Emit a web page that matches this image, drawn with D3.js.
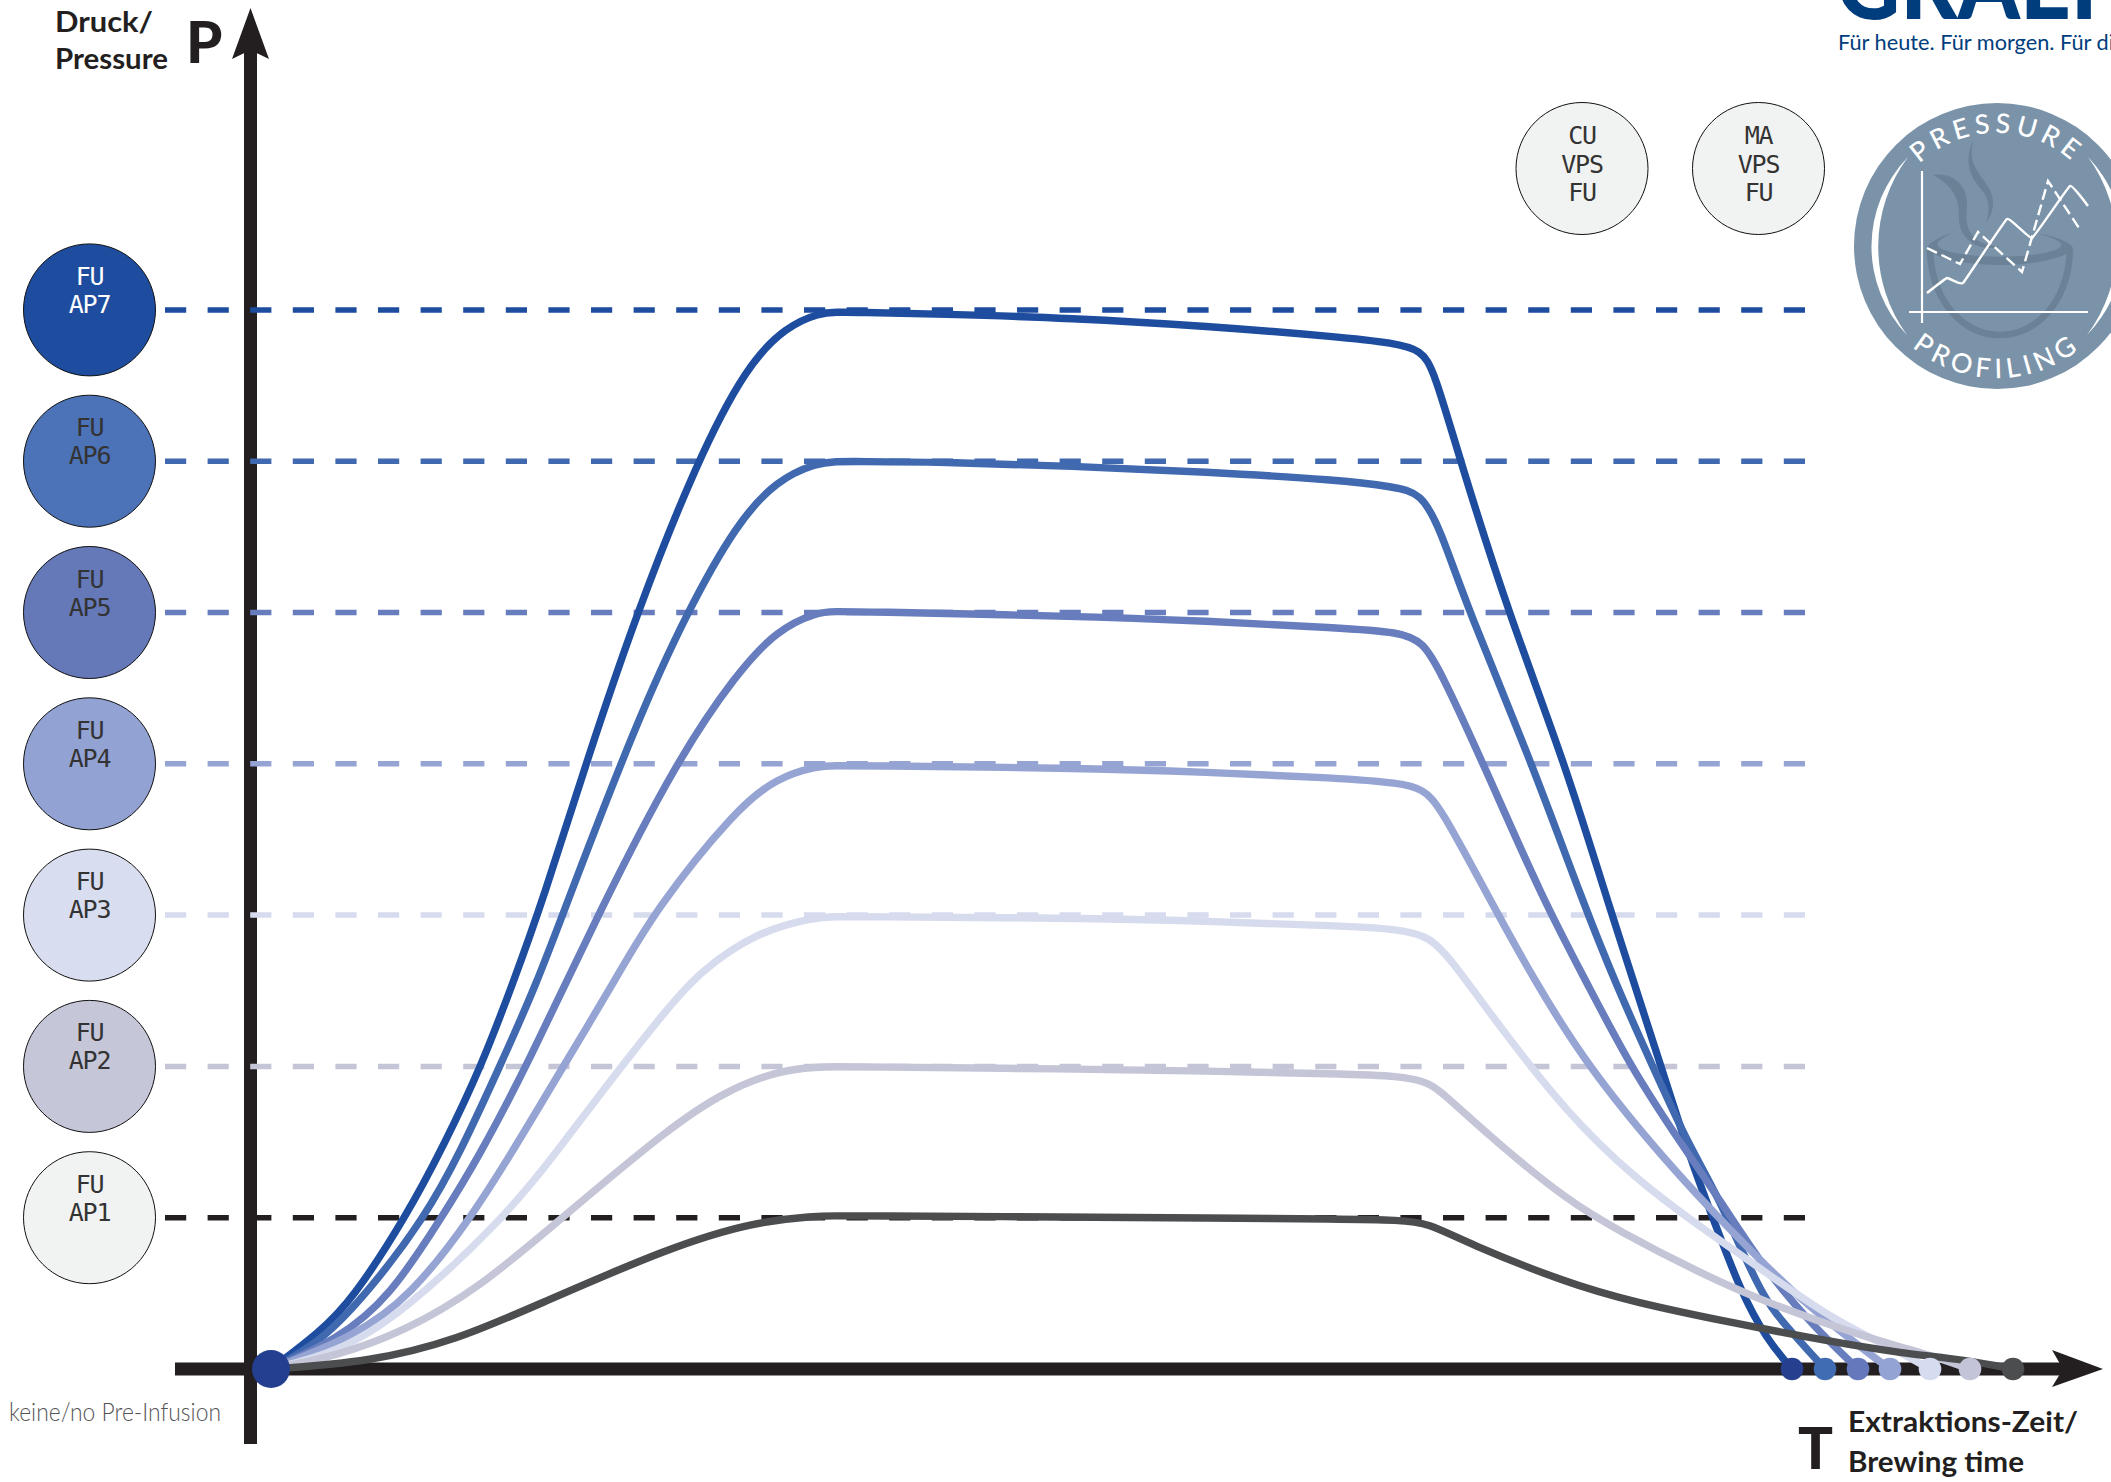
<!DOCTYPE html>
<html>
<head>
<meta charset="utf-8">
<title>Pressure Profiling</title>
<script src="https://cdn.jsdelivr.net/npm/d3@7"></script>
<style>
  html, body { margin: 0; padding: 0; background: #fff; overflow: hidden; }
  text { font-family: Lato, "Noto Sans", sans-serif; }
  .lcd { font-family: "DejaVu Sans Mono", monospace; font-size: 25px; letter-spacing: -1.2px; text-anchor: middle; }
</style>
</head>
<body>
<svg id="chart" width="2111" height="1482"></svg>
<script>
// Time in arbitrary units, pressure in levels (AP1 = 1 ... AP7 = 7)
const tAP7 = [0, 4.9, 8.1, 13.5, 17.4, 21.0, 24.2, 27.2, 31.6, 36.6, 42.6, 47.6, 51.6, 54.9, 56.5, 58.5, 66.8, 80.1, 93.5, 106.9, 112.3, 115.0, 116.3, 118.9, 123.7, 129.4, 133.6, 138.9, 142.2, 144.4, 146.9, 149.6, 152.1];
const pAP7 = [0, 0.245, 0.456, 1.005, 1.494, 1.996, 2.551, 3.100, 4.025, 5.003, 6.001, 6.636, 6.894, 6.980, 6.985, 6.985, 6.973, 6.946, 6.894, 6.821, 6.781, 6.735, 6.603, 6.008, 5.003, 4.005, 3.100, 2.022, 1.335, 0.965, 0.522, 0.192, 0];

const tAP6 = [0, 4.9, 9.9, 15.4, 18.9, 22.9, 26.6, 29.7, 36.6, 41.6, 46.6, 50.6, 54.6, 56.5, 58.5, 66.8, 80.1, 93.5, 106.9, 112.3, 115.0, 116.9, 119.6, 126.1, 131.1, 134.6, 138.2, 141.9, 144.6, 148.9, 151.2, 155.4];
const pAP6 = [0, 0.172, 0.522, 1.005, 1.428, 2.003, 2.551, 3.100, 4.283, 5.003, 5.592, 5.876, 5.988, 5.998, 5.998, 5.995, 5.968, 5.929, 5.876, 5.830, 5.790, 5.558, 5.036, 4.005, 3.100, 2.525, 1.996, 1.461, 1.163, 0.502, 0.304, 0];

const tAP5 = [0, 6.6, 11.9, 17.1, 20.6, 25.6, 32.9, 40.6, 46.6, 50.6, 54.6, 56.5, 58.5, 80.1, 93.5, 106.9, 112.9, 115.2, 116.9, 121.2, 127.2, 131.6, 135.9, 140.9, 144.9, 149.6, 154.6, 158.7];
const pAP5 = [0, 0.192, 0.476, 1.005, 1.381, 2.003, 3.034, 4.025, 4.600, 4.884, 5.003, 5.006, 5.006, 4.977, 4.944, 4.898, 4.871, 4.805, 4.620, 4.005, 3.100, 2.551, 2.003, 1.500, 1.117, 0.634, 0.258, 0];

const tAP4 = [0, 8.2, 13.9, 20.1, 24.9, 29.2, 34.6, 38.4, 46.6, 50.6, 54.6, 56.5, 58.5, 80.1, 93.5, 106.9, 112.9, 115.2, 116.9, 121.9, 126.2, 131.6, 139.6, 146.2, 152.9, 159.6, 161.9];
const pAP4 = [0, 0.211, 0.476, 1.005, 1.520, 1.996, 2.591, 3.034, 3.708, 3.906, 3.985, 3.988, 3.988, 3.972, 3.946, 3.906, 3.873, 3.833, 3.721, 3.100, 2.584, 2.003, 1.362, 0.899, 0.456, 0.112, 0];

const tAP3 = [0, 6.6, 13.2, 23.4, 28.2, 33.2, 39.9, 42.9, 48.3, 54.4, 56.5, 58.5, 80.1, 93.5, 106.9, 112.9, 115.9, 117.9, 122.9, 129.6, 136.2, 142.9, 149.6, 156.2, 162.9, 165.9];
const pAP3 = [0, 0.106, 0.370, 1.005, 1.401, 1.844, 2.406, 2.624, 2.882, 2.987, 2.990, 2.990, 2.981, 2.961, 2.928, 2.908, 2.855, 2.716, 2.260, 1.692, 1.269, 0.939, 0.634, 0.324, 0.112, 0];

const tAP2 = [0, 6.6, 13.2, 20.6, 29.2, 39.9, 45.6, 51.0, 54.6, 56.5, 58.5, 80.1, 93.5, 106.9, 112.9, 115.9, 117.9, 122.9, 129.6, 134.6, 142.9, 149.6, 159.6, 164.6, 169.9];
const pAP2 = [0, 0.086, 0.245, 0.522, 1.005, 1.599, 1.844, 1.976, 1.996, 1.998, 1.998, 1.983, 1.970, 1.950, 1.937, 1.897, 1.778, 1.480, 1.117, 0.919, 0.634, 0.436, 0.205, 0.119, 0];

const tAP1 = [0, 9.9, 18.6, 26.6, 39.9, 48.3, 54.4, 56.5, 58.5, 80.1, 93.5, 106.9, 112.9, 115.7, 119.6, 129.6, 136.2, 146.2, 156.2, 162.9, 169.6, 174.2];
const pAP1 = [0, 0.046, 0.192, 0.423, 0.806, 0.972, 1.011, 1.012, 1.012, 1.005, 0.998, 0.991, 0.985, 0.965, 0.833, 0.568, 0.443, 0.304, 0.178, 0.106, 0.059, 0];

const levelNames = ['AP7', 'AP6', 'AP5', 'AP4', 'AP3', 'AP2', 'AP1'];
const levels = [7, 6, 5, 4, 3, 2, 1];
const times = [tAP7, tAP6, tAP5, tAP4, tAP3, tAP2, tAP1];
const pressures = [pAP7, pAP6, pAP5, pAP4, pAP3, pAP2, pAP1];
const endTimes = [152.1, 155.4, 158.7, 161.9, 165.9, 169.9, 174.2];

const lineColors = ['#1e4d9f', '#4069b0', '#677dbd', '#96a4d4', '#d6dbee', '#c5c5d8', '#4b4d4f'];
const dashColors = ['#1e4d9f', '#4069b0', '#677dbd', '#96a4d4', '#d6dbee', '#c5c5d8', '#231f20'];
const circleColors = ['#1e4d9f', '#4c72b7', '#6578b8', '#92a2d2', '#d8ddef', '#c6c6d9', '#f1f2f2'];
const labelColors = ['#ffffff', '#333333', '#333333', '#333333', '#333333', '#333333', '#333333'];
const dotColors = ['#263f8f', '#406cb3', '#6478bb', '#93a3d4', '#d6dcef', '#c3c4d8', '#4b4d4f'];

const topDials = [['CU', 'VPS', 'FU'], ['MA', 'VPS', 'FU']];

// Little chart inside the round badge
const badgeSolidX = [77, 97, 113, 157, 182, 220, 238];
const badgeSolidY = [193, 178, 183, 119, 138, 86, 106];
const badgeDashX = [77, 110, 128, 172, 198, 231];
const badgeDashY = [148, 164, 132, 172, 81, 131];

const svg = d3.select('#chart');
const ink = '#231f20';

const x = d3.scaleLinear().domain([0, 174.2]).range([271, 2013]);
const y = d3.scaleLinear().domain([0, 7]).range([1369, 309.9]);
const axisX = 250.5;

// Axes
svg.append('line').attr('x1', axisX).attr('x2', axisX).attr('y1', 50).attr('y2', 1444)
  .attr('stroke', ink).attr('stroke-width', 13);
svg.append('line').attr('x1', 175).attr('x2', 2064).attr('y1', y(0)).attr('y2', y(0))
  .attr('stroke', ink).attr('stroke-width', 13);
svg.append('path').attr('fill', ink)
  .attr('d', `M${axisX},8 L269,59 L${axisX},50 L232,59 Z`);
svg.append('path').attr('fill', ink)
  .attr('d', `M2103,${y(0)} L2052,1387 L2063,${y(0)} L2052,1350 Z`);

// Dashed level lines
svg.selectAll('.level')
  .data(levels)
  .enter()
  .append('line')
  .attr('class', 'level')
  .attr('x1', 165)
  .attr('x2', 1805)
  .attr('y1', (d) => y(d))
  .attr('y2', (d) => y(d))
  .attr('stroke', (d, i) => dashColors[i])
  .attr('stroke-width', 5.5)
  .attr('stroke-dasharray', '21.2 21.4');

// Curves, AP7 underneath and AP1 on top
const line = d3.line()
  .x((d) => x(d[0]))
  .y((d) => y(d[1]))
  .curve(d3.curveBasis);

svg.selectAll('.curve')
  .data(levels)
  .enter()
  .append('path')
  .attr('class', 'curve')
  .attr('fill', 'none')
  .attr('stroke', (d, i) => lineColors[i])
  .attr('stroke-width', 7.4)
  .attr('d', (d, i) => line(d3.zip(times[i], pressures[i])));

// Start and end points
svg.append('circle').attr('cx', x(0)).attr('cy', y(0)).attr('r', 19).attr('fill', '#243f8f');
svg.selectAll('.end')
  .data(endTimes)
  .enter()
  .append('circle')
  .attr('class', 'end')
  .attr('cx', (d) => x(d))
  .attr('cy', y(0))
  .attr('r', 11.3)
  .attr('fill', (d, i) => dotColors[i]);

// Level dials on the left
const dials = svg.selectAll('.dial')
  .data(levels)
  .enter()
  .append('g')
  .attr('class', 'dial')
  .attr('transform', (d) => `translate(89.5,${y(d)})`);
dials.append('circle')
  .attr('r', 66)
  .attr('fill', (d, i) => circleColors[i])
  .attr('stroke', '#111')
  .attr('stroke-width', 1);
dials.append('text').attr('class', 'lcd').attr('y', -25)
  .attr('fill', (d, i) => labelColors[i]).text('FU');
dials.append('text').attr('class', 'lcd').attr('y', 3)
  .attr('fill', (d, i) => labelColors[i]).text((d, i) => levelNames[i]);

// Two dials top right
const dialX = d3.scalePoint().domain([0, 1]).range([1582, 1758.5]);
const upperDials = svg.selectAll('.top-dial')
  .data(topDials)
  .enter()
  .append('g')
  .attr('class', 'top-dial')
  .attr('transform', (d, i) => `translate(${dialX(i)},168.5)`);
upperDials.append('circle').attr('r', 66).attr('fill', '#f1f2f2').attr('stroke', '#111').attr('stroke-width', 1);
[-24.5, 4, 32].forEach((dy, row) => {
  upperDials.append('text').attr('class', 'lcd').attr('y', dy).attr('fill', '#333').text((d) => d[row]);
});

// Axis titles
function label(txt, px, py, size, weight, len, fill) {
  const t = svg.append('text').attr('x', px).attr('y', py)
    .attr('font-size', size).attr('font-weight', weight).attr('fill', fill || ink).text(txt);
  if (len) t.attr('textLength', len).attr('lengthAdjust', 'spacingAndGlyphs');
  return t;
}
label('Druck/', 55, 32, 28, 700, 98);
label('Pressure', 55, 69, 28, 700, 113);
label('P', 186, 63, 58, 900);
label('T', 1798, 1469, 58, 900);
label('Extraktions-Zeit/', 1848, 1432, 28, 700, 230);
label('Brewing time', 1848, 1472, 28, 700, 176);
label('keine/no Pre-Infusion', 9, 1421, 25, 300, 212, '#555555');

// Brand, cut off by the page edge like in the original
label('GRAEF', 1836, 19, 100, 900, 285, '#003d7c');
label('Für heute. Für morgen. Für di', 1838, 50, 21, 400, 276, '#003d7c');

// Round badge
const badge = svg.append('g').attr('transform', 'translate(1997,246)');
badge.append('circle').attr('r', 143).attr('fill', '#7b93a9');
svg.append('defs').html(
  '<path id="arcTop" d="M-113,0 A113,113 0 0 1 113,0"></path>' +
  '<path id="arcBottom" d="M-132,0 A132,132 0 0 0 132,0"></path>'
);
badge.append('path').attr('fill', '#fff').attr('d', 'M-89,-89 A128,128 0 0 0 -90,89 A150,150 0 0 1 -89,-89 Z');
badge.append('path').attr('fill', '#fff').attr('d', 'M91,-89 A128,128 0 0 1 90,89 A150,150 0 0 0 91,-89 Z');

const arcText = (id, txt, size, spacing) => badge.append('text')
  .attr('font-size', size)
  .attr('font-weight', 500)
  .attr('fill', '#fff')
  .attr('text-anchor', 'middle')
  .attr('letter-spacing', spacing)
  .append('textPath')
  .attr('href', '#' + id)
  .attr('startOffset', '50%')
  .text(txt);
arcText('arcTop', 'PRESSURE', 27, 5);
arcText('arcBottom', 'PROFILING', 27, 5);

// Cup and steam, drawn in crop pixels of the badge
const cup = svg.append('g').attr('transform', 'translate(1850,100) scale(0.3333)');
const cupDark = '#6b8296';
cup.append('path').attr('fill', 'none').attr('stroke', cupDark).attr('stroke-width', 20)
  .attr('d', 'M240,450 C245,610 345,705 450,705 C555,705 655,610 660,450');
cup.append('path').attr('fill', cupDark)
  .attr('d', 'M230,445 C240,425 270,410 305,400 C275,415 262,425 262,435 C270,455 350,470 450,470 C550,470 630,455 635,435 C635,425 600,410 560,400 C620,410 660,425 670,445 C650,475 550,495 450,495 C350,495 250,475 230,445 Z');
cup.append('path').attr('fill', cupDark)
  .attr('d', 'M250,225 C310,215 360,260 350,330 C345,400 375,435 450,440 C400,455 345,430 330,380 C320,330 345,280 250,225 Z');
cup.append('path').attr('fill', cupDark)
  .attr('d', 'M372,118 C350,190 385,210 420,270 C440,310 425,345 408,368 C420,330 420,300 395,270 C350,220 345,170 372,118 Z');

// Small axes and lines on the badge
const bx = d3.scaleLinear().domain([0, 261]).range([1850, 2111]);
const by = d3.scaleLinear().domain([0, 295]).range([100, 395]);
svg.append('line').attr('x1', bx(72)).attr('x2', bx(72)).attr('y1', by(71)).attr('y2', by(223))
  .attr('stroke', '#fff').attr('stroke-width', 2.2);
svg.append('line').attr('x1', bx(59)).attr('x2', bx(238)).attr('y1', by(212)).attr('y2', by(212))
  .attr('stroke', '#fff').attr('stroke-width', 2.2);
svg.append('path').attr('fill', 'none').attr('stroke', '#fff').attr('stroke-width', 2.4)
  .attr('d', d3.line().x((d) => bx(d[0])).y((d) => by(d[1])).curve(d3.curveCardinal.tension(0.75))(d3.zip(badgeSolidX, badgeSolidY)));
svg.append('path').attr('fill', 'none').attr('stroke', '#fff').attr('stroke-width', 2.4)
  .attr('stroke-dasharray', '11 5')
  .attr('d', d3.line().x((d) => bx(d[0])).y((d) => by(d[1]))(d3.zip(badgeDashX, badgeDashY)));
</script>
</body>
</html>
